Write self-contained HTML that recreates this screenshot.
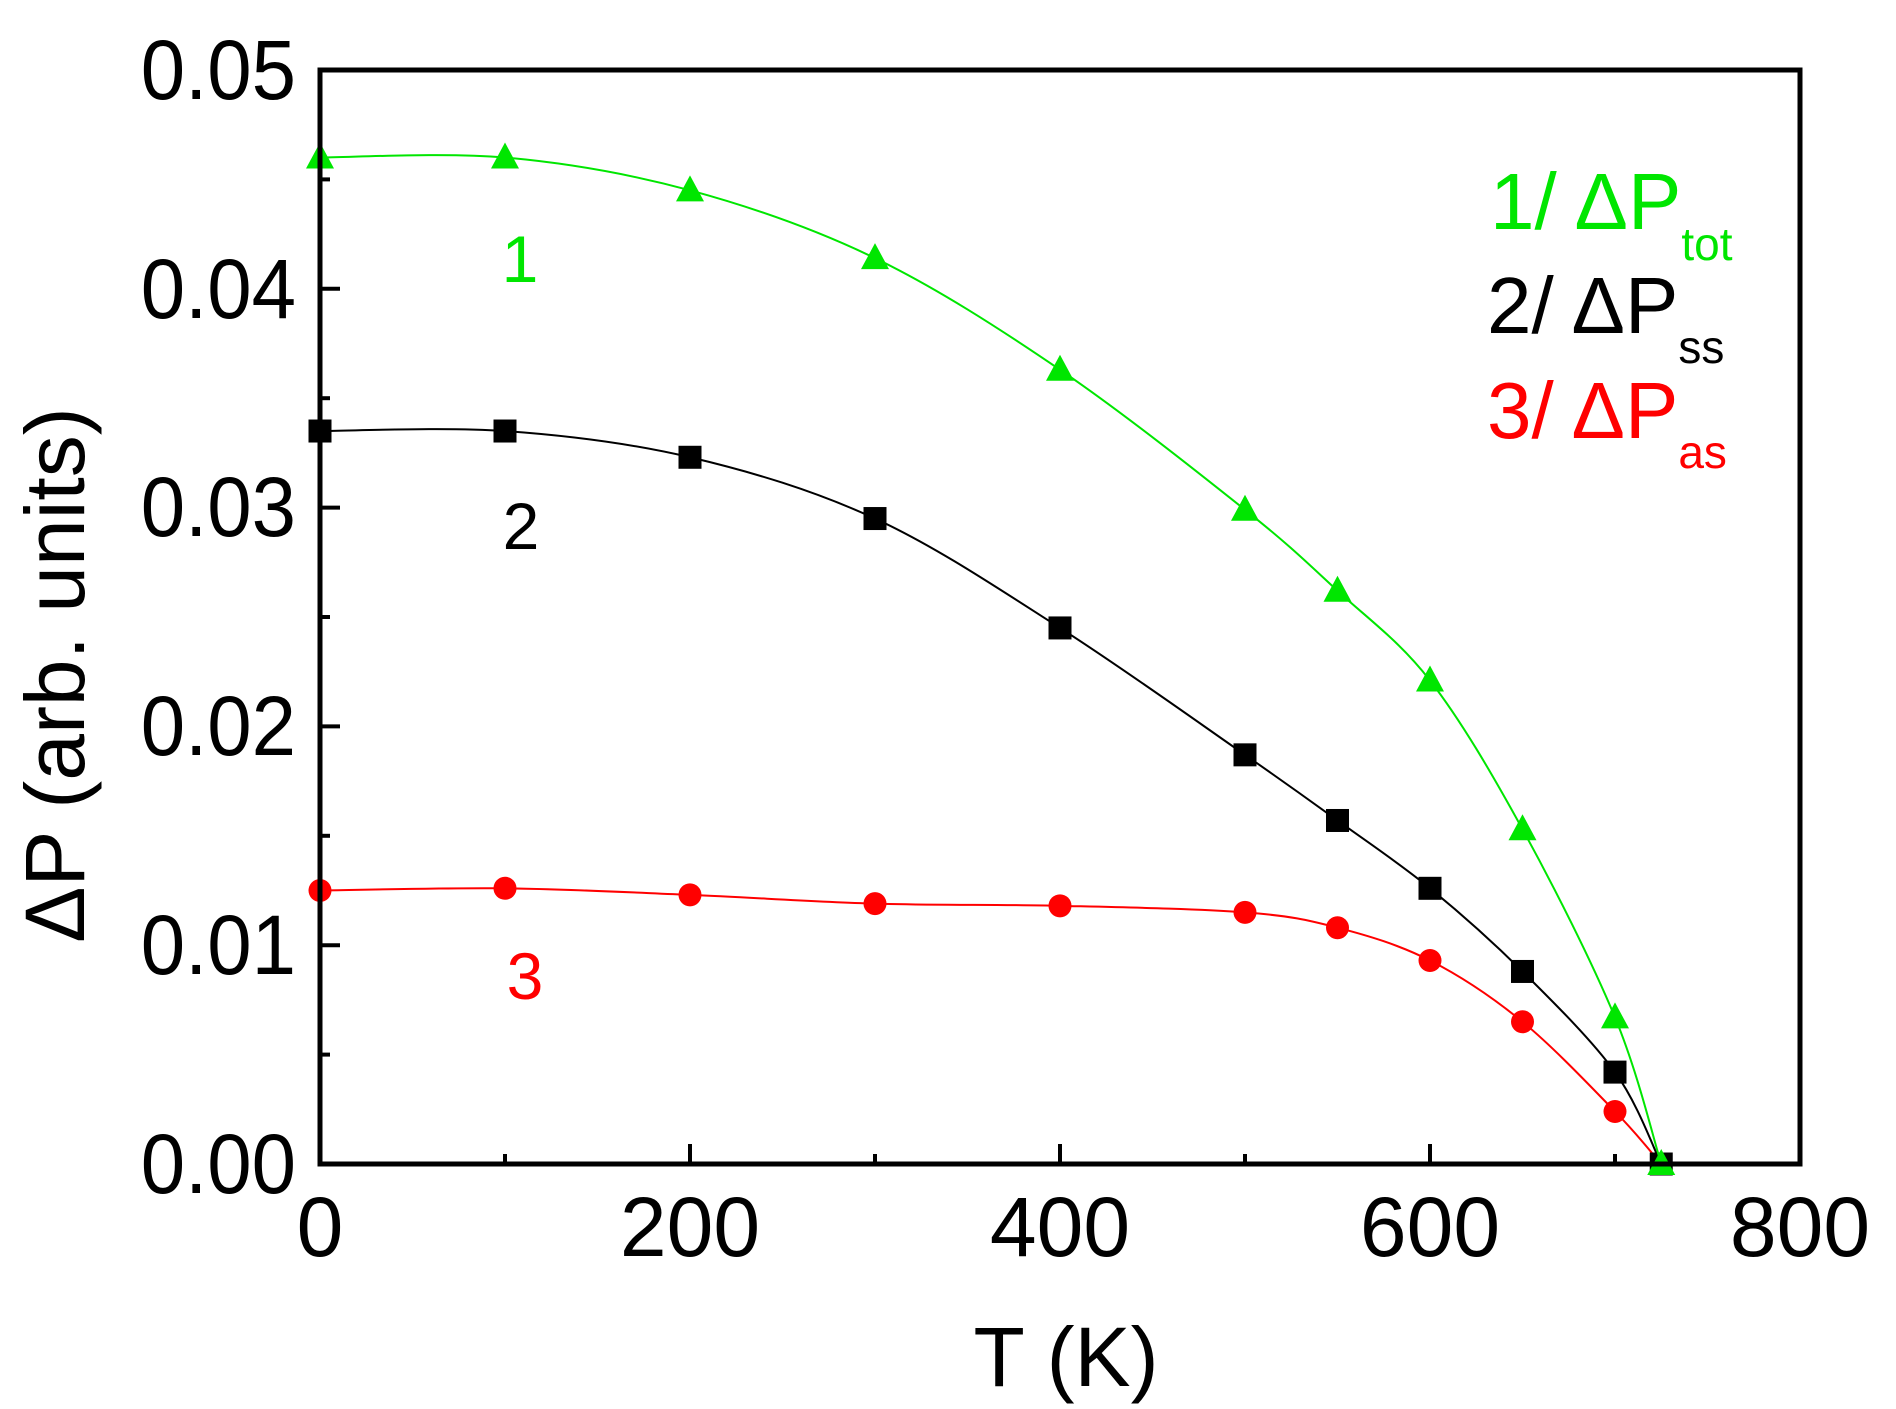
<!DOCTYPE html>
<html><head><meta charset="utf-8"><style>
html,body{margin:0;padding:0;background:#fff}
svg{display:block}
text{font-family:"Liberation Sans",Arial,sans-serif}
</style></head><body>
<svg id="s" width="1896" height="1409" viewBox="0 0 1896 1409" xmlns="http://www.w3.org/2000/svg">
<g id="data"></g>
<rect x="320" y="70" width="1480" height="1094" fill="none" stroke="#000" stroke-width="5"/>
<g id="ticks" stroke="#000" stroke-width="4"></g>
<g font-size="84" text-anchor="end" fill="#000">
<text x="296" y="1193" transform="translate(296,0) scale(0.95,1) translate(-296,0)">0.00</text>
<text x="296" y="974" transform="translate(296,0) scale(0.95,1) translate(-296,0)">0.01</text>
<text x="296" y="755" transform="translate(296,0) scale(0.95,1) translate(-296,0)">0.02</text>
<text x="296" y="536" transform="translate(296,0) scale(0.95,1) translate(-296,0)">0.03</text>
<text x="296" y="318" transform="translate(296,0) scale(0.95,1) translate(-296,0)">0.04</text>
<text x="296" y="99" transform="translate(296,0) scale(0.95,1) translate(-296,0)">0.05</text>
</g>
<g font-size="84" text-anchor="middle" fill="#000">
<text x="320" y="1256">0</text>
<text x="690" y="1256">200</text>
<text x="1060" y="1256">400</text>
<text x="1430" y="1256">600</text>
<text x="1800" y="1256">800</text>
<text x="1066" y="1386">T (K)</text>
<text transform="translate(84,675) rotate(-90)">ΔP (arb. units)</text>
</g>
<g font-size="66" text-anchor="middle">
<text x="520" y="282" fill="#00e600">1</text>
<text x="521" y="549" fill="#000">2</text>
<text x="525" y="999" fill="#ff0000">3</text>
</g>
<g font-size="80">
<text x="1490" y="229" fill="#00e600">1/ ΔP<tspan font-size="46" dy="31">tot</tspan></text>
<text x="1487" y="333" fill="#000">2/ ΔP<tspan font-size="46" dy="30">ss</tspan></text>
<text x="1487" y="438" fill="#ff0000">3/ ΔP<tspan font-size="46" dy="30">as</tspan></text>
</g>
</svg>
<script>
const X=t=>320+1.85*t, Y=v=>1164-21880*v;
const T=[0,100,200,300,400,500,550,600,650,700,725];
const G=[0.046,0.046,0.0445,0.0414,0.0363,0.0299,0.0262,0.0221,0.0153,0.0067,0];
const B=[0.0335,0.0335,0.0323,0.0295,0.0245,0.0187,0.0157,0.0126,0.0088,0.0042,0];
const R=[0.0125,0.0126,0.0123,0.0119,0.0118,0.0115,0.0108,0.0093,0.0065,0.0024,0];
const NS="http://www.w3.org/2000/svg";
const g=document.getElementById('data');
function el(n,a){const e=document.createElementNS(NS,n);for(const k in a)e.setAttribute(k,a[k]);g.appendChild(e);return e;}
function curve(vals,col){
 const p=T.map((t,i)=>[X(t),Y(vals[i])]);
 let d=`M${p[0][0]},${p[0][1]}`;
 for(let i=0;i<p.length-1;i++){
  const p0=p[i-1]||p[i],p1=p[i],p2=p[i+1],p3=p[i+2]||p[i+1];
  const c1=[p1[0]+(p2[0]-p0[0])/6,p1[1]+(p2[1]-p0[1])/6];
  const c2=[p2[0]-(p3[0]-p1[0])/6,p2[1]-(p3[1]-p1[1])/6];
  d+=`C${c1[0]},${c1[1]} ${c2[0]},${c2[1]} ${p2[0]},${p2[1]}`;
 }
 el('path',{d:d,fill:'none',stroke:col,'stroke-width':2});
 return p;
}
curve(R,'#ff0000').forEach(q=>el('circle',{cx:q[0],cy:q[1],r:11.5,fill:'#ff0000'}));
curve(B,'#000').forEach(q=>el('rect',{x:q[0]-11.5,y:q[1]-11.5,width:23,height:23,fill:'#000'}));
curve(G,'#00e600').forEach(q=>el('polygon',{points:`${q[0]},${q[1]-15} ${q[0]-14},${q[1]+11} ${q[0]+14},${q[1]+11}`,fill:'#00e600'}));
const tk=document.getElementById('ticks');
function ln(a){const e=document.createElementNS(NS,'line');for(const k in a)e.setAttribute(k,a[k]);tk.appendChild(e);}
for(let i=1;i<10;i++){const y=1164-i*109.4;ln({x1:320,x2:i%2?330:340,y1:y,y2:y});}
for(let t=100;t<800;t+=100){const x=X(t);ln({x1:x,x2:x,y1:1164,y2:t%200?1154:1144});}
</script>
</body></html>
